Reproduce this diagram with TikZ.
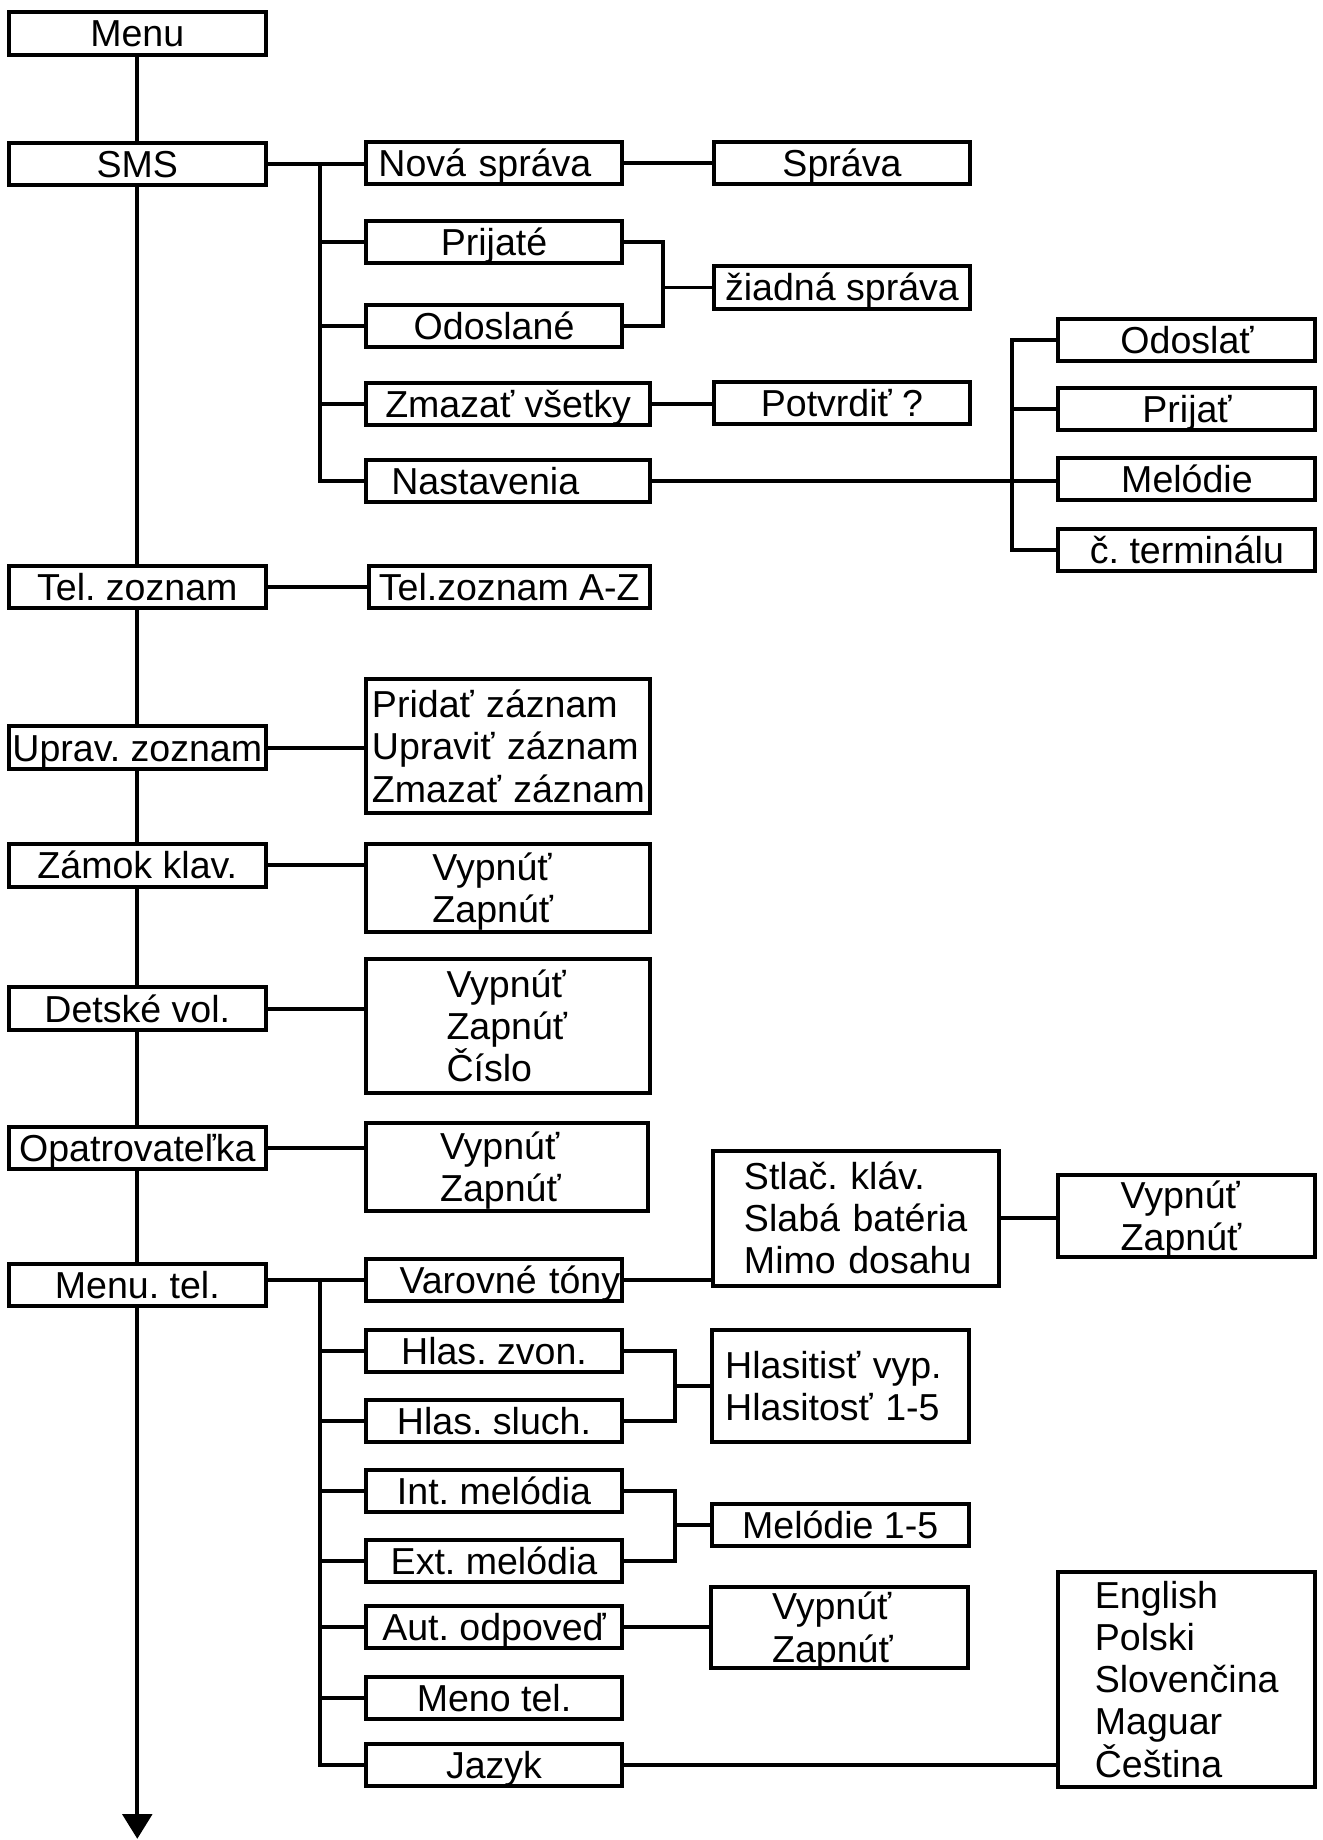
\documentclass[tikz,border=0pt]{standalone}
\usepackage{fontspec}
\setmainfont{Liberation Sans}
\usetikzlibrary{arrows.meta}
\frenchspacing
\hyphenpenalty=10000
\exhyphenpenalty=10000

\begin{document}
\begin{tikzpicture}
[x=0.5pt, y=-0.5pt, line width=1.7pt, font=\fontsize{16pt}{18pt}\selectfont]
\tikzset{
	box/.style = {draw, inner sep=0pt, text height=11.5pt, text depth=0pt, minimum height=18pt},
	mainbox/.style = {box, minimum width=109.5pt},
	subbox/.style = {box, minimum width=#1},
	padbox/.style 2 args = {box, align=left, text width=#1, inner xsep=#2},
	listbox/.style n args = {4}{padbox={#1}{#2}, minimum height=#3, text depth=#4}
}
\useasboundingbox (0,0) rectangle (1127,1568);

% main menu
\node(menu) [mainbox] at (117,28.5) {Menu};
\node(sms) [mainbox] at (117,139.7) {SMS};
\node(telzoznam) [mainbox] at (117,500) {Tel. zoznam};
\node(upravzoznam) [mainbox] at (117,637) {Uprav. zoznam};
\node(zamok) [mainbox] at (117,737.5) {Zámok klav.};
\node(detske) [mainbox] at (117,859.5) {Detské vol.};
\node(opatrov) [mainbox] at (117,978) {Opatrovateľka};
\node(menutel) [mainbox] at (117,1095) {Menu. tel.};
\coordinate (trunkend) at (117,1567);

% SMS
\node(nova) [padbox={98.5pt}{5.25pt}] at (421,139.2) {Nová~správa};
\node(prijate) [subbox=109pt] at (421,206) {Prijaté};
\node(odoslane) [subbox=109pt] at (421,278) {Odoslané};
\node(zmazat) [subbox=121pt] at (433,344) {Zmazať všetky};
\node(nastavenia) [padbox={99.5pt}{10.75pt}] at (433,410) {Nastavenia};
\node(sprava) [subbox=109pt] at (717.5,139.2) {Správa};
\node(ziadna) [subbox=109pt] at (717.5,245) {žiadná správa};
\node(potvrdit) [subbox=109pt] at (717.5,343.5) {Potvrdiť ?};
\node(odoslat) [subbox=109.5pt] at (1011.5,289.5) {Odoslať};
\node(prijat) [subbox=109.5pt] at (1011.5,348.3) {Prijať};
\node(melodie) [subbox=109.5pt] at (1011.5,408) {Melódie};
\node(terminal) [subbox=109.5pt] at (1011.5,468.5) {č. terminálu};

% zoznam, zamok, detske, opatrovatelka
\node(telaz) [subbox=119.5pt] at (434,500) {Tel.zoznam A-Z};
\node(zaznamy) [listbox={115.5pt}{2.75pt}{57pt}{36pt}] at (432.5,636)
	{Pridať~záznam\\Upraviť~záznam\\Zmazať~záznam};
\node(zamokopt) [listbox={64.5pt}{28.25pt}{37.5pt}{18pt}] at (433,756.5) {Vypnúť\\Zapnúť};
\node(detskeopt) [listbox={52.5pt}{34.25pt}{57pt}{36pt}] at (433,874.5) {Vypnúť\\Zapnúť\\Číslo};
\node(opatrovopt) [listbox={57pt}{31.75pt}{37.5pt}{18pt}] at (432,994.5) {Vypnúť\\Zapnúť};

% Menu. tel.
\node(varovne) [padbox={80.5pt}{14.25pt}] at (421,1091) {Varovné~tóny};
\node(hlaszvon) [subbox=109pt] at (421,1151.5) {Hlas. zvon.};
\node(hlassluch) [subbox=109pt] at (421,1211) {Hlas. sluch.};
\node(intmel) [subbox=109pt] at (421,1270.5) {Int. melódia};
\node(extmel) [subbox=109pt] at (421,1330.5) {Ext. melódia};
\node(autodp) [subbox=109pt] at (421,1386.5) {Aut. odpoveď};
\node(menotel) [subbox=109pt] at (421,1446.7) {Meno tel.};
\node(jazyk) [subbox=109pt] at (421,1504.3) {Jazyk};
\node(stlac) [listbox={95.5pt}{13.25pt}{57.5pt}{36pt}] at (729.5,1038)
	{Stlač.~kláv.\\Slabá~batéria\\Mimo~dosahu};
\node(varovopt) [listbox={56pt}{26.75pt}{35pt}{18pt}] at (1011,1036.5) {Vypnúť\\Zapnúť};
\node(hlasitost) [listbox={98pt}{5.75pt}{47.5pt}{18pt}] at (716,1181) {Hlasitisť~vyp.\\Hlasitosť~1-5};
\node(melodie15) [subbox=109.5pt] at (716,1299.5) {Melódie 1-5};
\node(autopt) [listbox={57pt}{26.25pt}{34.5pt}{18pt}] at (715,1387) {Vypnúť\\Zapnúť};
\node(jazyky) [listbox={78pt}{15.75pt}{91.5pt}{72pt}] at (1011,1431)
	{English\\Polski\\Slovenčina\\Maguar\\Čeština};

% trunk
\foreach \a/\b in {menu/sms, sms/telzoznam, telzoznam/upravzoznam, upravzoznam/zamok,
	zamok/detske, detske/opatrov, opatrov/menutel}
	\draw (\a) -- (\b);
\draw [-{Triangle[length=10.5pt, width=12.5pt]}] (menutel) -- (trunkend);

% SMS branches
\coordinate (smsbar) at (273,139.7);
\draw (sms.east) -- (sms.east -| nova.west);
\draw (smsbar) |- (nastavenia.west);
\foreach \n in {prijate, odoslane, zmazat}
	\draw (\n.west) -- (\n.west -| smsbar);
\draw (nova.east) -- (nova.east -| sprava.west);
\coordinate (prijbar) at (565,245);
\draw (prijate.east) -| (prijbar) |- (odoslane.east);
\draw (prijbar) -- (prijbar -| ziadna.west);
\draw (zmazat.east) -- (zmazat.east -| potvrdit.west);
\coordinate (nastbar) at (862,409);
\draw (nastavenia.east) -- (nastavenia.east -| melodie.west);
\draw (odoslat.west) -| (nastbar) |- (terminal.west);
\draw (prijat.west) -- (prijat.west -| nastbar);

\foreach \a/\b in {telzoznam/telaz, upravzoznam/zaznamy, zamok/zamokopt,
	detske/detskeopt, opatrov/opatrovopt}
	\draw (\a.east) -- (\a.east -| \b.west);

% Menu. tel. branches
\coordinate (telbar) at (273,1091);
\draw (varovne.west -| menutel.east) -- (varovne.west);
\draw (telbar) |- (jazyk.west);
\foreach \n in {hlaszvon, hlassluch, intmel, extmel, autodp, menotel}
	\draw (\n.west) -- (\n.west -| telbar);
\draw (varovne.east) -- (varovne.east -| stlac.west);
\draw (stlac.east) -- (stlac.east -| varovopt.west);
\coordinate (hlasbar) at (575,1181);
\draw (hlaszvon.east) -| (hlasbar) |- (hlassluch.east);
\draw (hlasbar) -- (hlasbar -| hlasitost.west);
\coordinate (melbar) at (575,1299.5);
\draw (intmel.east) -| (melbar) |- (extmel.east);
\draw (melbar) -- (melbar -| melodie15.west);
\draw (autodp.east) -- (autodp.east -| autopt.west);
\draw (jazyk.east) -- (jazyk.east -| jazyky.west);
\end{tikzpicture}
\end{document}
